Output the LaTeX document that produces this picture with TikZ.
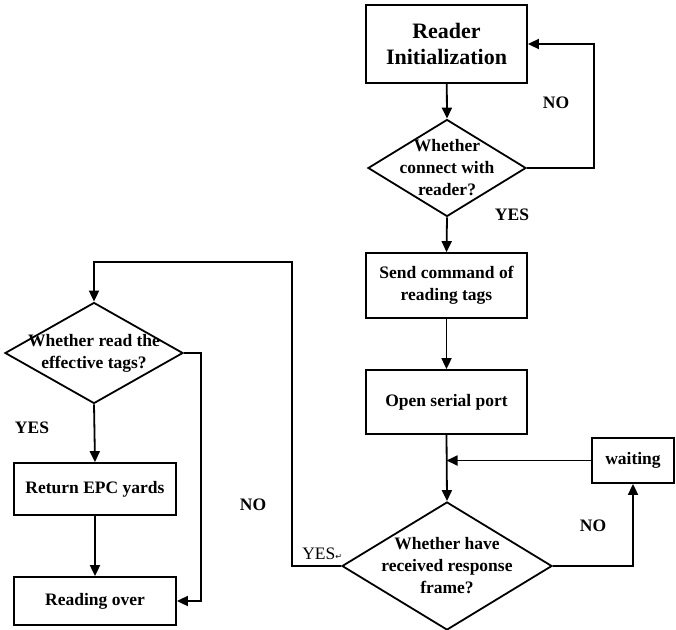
\documentclass[tikz,border=0pt]{standalone}
\usepackage{fontspec}
\setmainfont{Liberation Serif}
\newfontfamily\symfont{DejaVu Sans}
\usetikzlibrary{shapes.geometric,arrows.meta,calc}
\begin{document}
\begin{tikzpicture}[x=1pt,y=-1pt,
  line width=1.8pt,
  boxnode/.style={draw,rectangle,inner sep=0pt,align=center,font=\bfseries\fontsize{17.5}{22.5}\selectfont},
  dianode/.style={draw,diamond,inner sep=0pt},
  dtext/.style={align=center,inner sep=0pt,font=\bfseries\fontsize{17.5}{22}\selectfont},
  lbl/.style={inner sep=0pt,font=\bfseries\fontsize{17.5}{20}\selectfont},
  arr/.style={-{Triangle[length=11pt,width=10pt]}}]
\useasboundingbox (0,0) rectangle (676,629);

% right column
\node[boxnode,minimum width=161pt,minimum height=78pt,
      font=\bfseries\fontsize{22}{26}\selectfont] (init) at (446.5,44) {Reader\\Initialization};
\node[dianode,minimum width=158pt,minimum height=97pt] (d1) at (447,168) {};
\node[dtext] (d1t) at (d1) {Whether\\connect with\\reader?};
\node[boxnode,minimum width=161pt,minimum height=65pt] (send) at (446.5,285.5) {Send command of\\reading tags};
\node[boxnode,minimum width=161pt,minimum height=64pt] (open) at (446.5,402) {Open serial port};
\node[boxnode,minimum width=82pt,minimum height=45pt] (wait) at (633,460.5) {waiting};
\node[dianode,minimum width=210pt,minimum height=128pt] (d3) at (447,566) {};
\node[dtext] (d3t) at (d3) {Whether have\\received response\\frame?};

% left column
\node[dianode,minimum width=178pt,minimum height=101pt] (d2) at (94,353) {};
\node[dtext] (d2t) at (d2) {Whether read the\\effective tags?};
\node[boxnode,minimum width=162pt,minimum height=52pt] (epc) at (95,489) {Return EPC yards};
\node[boxnode,minimum width=162pt,minimum height=48pt] (over) at (95,601) {Reading over};

% branch labels
\node[lbl] (no1) at (556,103) {NO};
\node[lbl] (yes1) at (512,215) {YES};
\node[lbl] (yes2) at (32,428) {YES};
\node[lbl] (no2) at (253,505) {NO};
\node[lbl] (no3) at (593,526) {NO};
\node[inner sep=0pt,anchor=east,font=\fontsize{17.5}{20}\selectfont] (yes3) at (343,554) {YES{\symfont\fontsize{8}{9}\selectfont ↵}};

% connectors
\coordinate (join) at (open.south |- wait.west);
\draw[arr] (init) -- (d1.north);
\draw[arr] (d1.east) -- ++(67,0) |- (init.east);
\draw[arr] (d1.south) -- (send.north);
\draw[arr] (send.south) -- (open.north);
\draw[arr] (open.south) -- (d3.north);
\draw[arr] (wait.west) -- (join);
\draw[arr] (d3.east) -| (wait.south);
\draw[arr] (d3.west) -- ++(-49,0) |- ($(d2.north)+(0,-40)$) -- (d2.north);
\draw[arr] (d2.east) -- ++(17,0) |- (over.east);
\draw[arr] (d2.south) -- (epc.north);
\draw[arr] (epc.south) -- (over.north);
\end{tikzpicture}
\end{document}
